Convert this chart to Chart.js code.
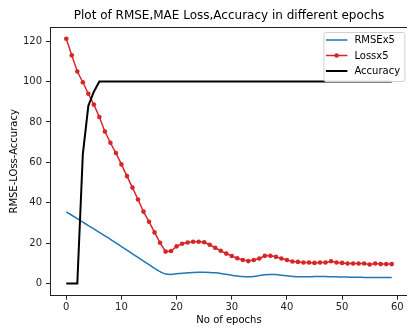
<!DOCTYPE html>
<html><head><meta charset="utf-8">
<script src="https://cdn.jsdelivr.net/npm/chart.js@4/dist/chart.umd.min.js"></script>
<style>
html,body{margin:0;padding:0;overflow:hidden;background:#fff;width:407px;height:329px}
#wrap{width:412px;height:329px;position:relative}
</style></head>
<body><div id="wrap"><canvas id="c" width="412" height="329"></canvas></div>
<script>
const epochs = [0,1,2,3,4,5,6,7,8,9,10,11,12,13,14,15,16,17,18,19,20,21,22,23,24,25,26,27,28,29,30,31,32,33,34,35,36,37,38,39,40,41,42,43,44,45,46,47,48,49,50,51,52,53,54,55,56,57,58,59];
const rmseX5 = [35.5,33.8,32.1,30.4,28.7,27.0,25.3,23.6,21.9,20.1,18.3,16.5,14.7,12.9,11.1,9.3,7.5,5.9,4.7,4.5,4.8,5.1,5.3,5.5,5.6,5.6,5.5,5.3,5.0,4.6,4.1,3.7,3.4,3.3,3.5,3.9,4.3,4.5,4.4,4.1,3.8,3.5,3.3,3.3,3.3,3.4,3.4,3.4,3.3,3.3,3.2,3.2,3.1,3.1,3.0,3.0,3.0,3.0,3.0,3.0];
const lossX5 = [121.2,113.0,105.0,99.7,94.0,88.6,82.5,75.3,69.7,64.6,59.0,53.2,47.5,41.6,35.6,30.6,25.3,20.2,15.8,16.1,18.4,19.7,20.3,20.7,20.7,20.4,19.2,17.7,16.2,14.8,13.6,12.5,11.6,11.1,11.6,12.4,13.7,13.7,13.2,12.4,11.6,10.9,10.7,10.4,10.4,10.2,10.4,10.4,11.0,10.4,10.2,9.9,9.9,9.9,9.9,9.4,9.9,9.6,9.6,9.6];
const accuracy = [0,0,0,64,88,95,100,100,100,100,100,100,100,100,100,100,100,100,100,100,100,100,100,100,100,100,100,100,100,100,100,100,100,100,100,100,100,100,100,100,100,100,100,100,100,100,100,100,100,100,100,100,100,100,100,100,100,100,100,100];
const xTicks = [0,10,20,30,40,50,60];
const yTicks = [0,20,40,60,80,100,120];
const seriesLabels = ['RMSEx5','Lossx5','Accuracy'];
const titleText = 'Plot of RMSE,MAE Loss,Accuracy in different epochs';
const xLabel = 'No of epochs';
const yLabel = 'RMSE-LOss-Accuracy';

const FONT = 'DejaVu Sans';
const AX = '#222';
const toXY = arr => arr.map((v,i)=>({x:epochs[i], y:v}));

const spinePlugin = {
  id:'spines',
  afterDatasetsDraw(chart){
    const ctx = chart.ctx, a = chart.chartArea;
    ctx.save();
    ctx.strokeStyle = AX; ctx.lineWidth = 1;
    ctx.beginPath();
    ctx.moveTo(a.left, a.top+0.5); ctx.lineTo(a.right, a.top+0.5);
    ctx.moveTo(a.right-0.5, a.top); ctx.lineTo(a.right-0.5, a.bottom);
    ctx.stroke();
    ctx.restore();
  }
};

const legendPlugin = {
  id:'boxLegend',
  afterDraw(chart){
    const ctx = chart.ctx, a = chart.chartArea;
    const w = 81, h = 49;
    const right = a.right - 3.6, top = a.top + 5;
    const left = right - w;
    ctx.save();
    ctx.fillStyle = 'rgba(255,255,255,0.85)';
    ctx.strokeStyle = '#d0d0d0';
    ctx.lineWidth = 1;
    ctx.beginPath();
    if (ctx.roundRect) ctx.roundRect(left+0.5, top+0.5, w, h, 2); else ctx.rect(left+0.5, top+0.5, w, h);
    ctx.fill(); ctx.stroke();
    const rows = [8, 23.5, 39];
    ctx.font = '10px "' + FONT + '"';
    ctx.textBaseline = 'middle';
    ctx.fillStyle = '#000';
    chart.data.datasets.forEach((ds, i) => {
      const y = top + rows[i];
      ctx.strokeStyle = ds.borderColor;
      ctx.lineWidth = ds.borderWidth;
      ctx.beginPath(); ctx.moveTo(left+2.5, y); ctx.lineTo(left+24, y); ctx.stroke();
      if (ds.pointRadius > 0) {
        ctx.fillStyle = ds.pointBackgroundColor;
        ctx.beginPath(); ctx.arc(left+13.25, y, ds.pointRadius, 0, Math.PI*2); ctx.fill();
      }
      ctx.fillStyle = '#000';
      ctx.fillText(ds.label, left+31, y+0.5);
    });
    ctx.restore();
  }
};

new Chart(document.getElementById('c'), {
  type:'line',
  data:{
    datasets:[
      {label:seriesLabels[0], data:toXY(rmseX5), borderColor:'#1f77b4', borderWidth:1.5, pointRadius:0, cubicInterpolationMode:'monotone', order:2},
      {label:seriesLabels[1], data:toXY(lossX5), borderColor:'#d62728', borderWidth:1.5, pointRadius:2.3, pointBackgroundColor:'#d62728', pointBorderWidth:0, pointBorderColor:'#d62728', order:1},
      {label:seriesLabels[2], data:toXY(accuracy), borderColor:'#000000', borderWidth:2, pointRadius:0, order:0}
    ]
  },
  options:{
    responsive:false, animation:false, devicePixelRatio:1,
    layout:{padding:{left:0,right:3.4,top:0,bottom:0}},
    plugins:{
      legend:{display:false}, tooltip:{enabled:false},
      title:{display:true, text:titleText, color:'#000', fullSize:false,
        font:{family:FONT,size:12,weight:'normal'}, padding:{top:9,bottom:3.6}}
    },
    scales:{
      x:{type:'linear', min:-2.95, max:61.95,
        afterBuildTicks:s=>{s.ticks = xTicks.map(v=>({value:v}));},
        afterFit:s=>{s.height = 33.3;},
        grid:{display:true, drawOnChartArea:false, drawTicks:true, tickLength:4, color:AX, tickColor:AX},
        border:{display:true, color:AX, width:1},
        ticks:{color:AX, font:{family:FONT,size:10}, padding:2, maxRotation:0, autoSkip:false},
        title:{display:true, text:xLabel, color:'#000', font:{family:FONT,size:10}, padding:{top:0,bottom:3}}
      },
      y:{type:'linear', min:-6.05, max:127.05,
        afterBuildTicks:s=>{s.ticks = yTicks.map(v=>({value:v}));},
        afterFit:s=>{s.width = 50;},
        grid:{display:true, drawOnChartArea:false, drawTicks:true, tickLength:4, color:AX, tickColor:AX},
        border:{display:true, color:AX, width:1},
        ticks:{color:AX, font:{family:FONT,size:10}, padding:4, autoSkip:false},
        title:{display:true, text:yLabel, color:'#000', font:{family:FONT,size:10}, padding:{top:8,bottom:0}}
      }
    }
  },
  plugins:[spinePlugin, legendPlugin]
});
</script>
</body></html>
